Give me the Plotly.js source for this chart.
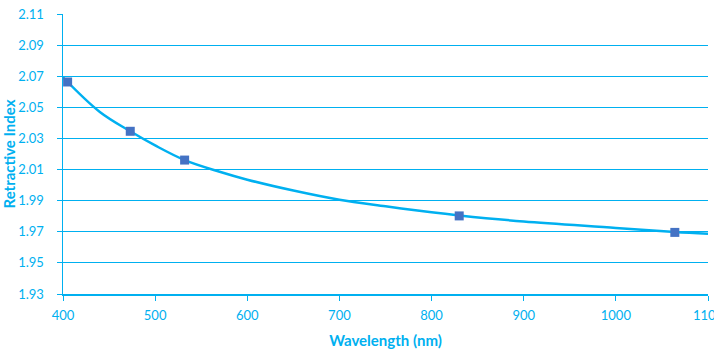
<!DOCTYPE html>
<html>
<head>
<meta charset="utf-8">
<script src="https://cdn.plot.ly/plotly-3.0.1.min.js"></script>
<style>html,body{margin:0;padding:0;background:#fff;}#chart{width:714px;height:350px;}</style>
</head>
<body>
<div id="chart"></div>
<script>
// Measured points
var wavelengths = [405, 473, 532, 830, 1064];
var refractiveIndex = [2.0663, 2.0346, 2.0161, 1.9802, 1.9696];

// Fitted curve
var curveWavelengths = [400, 440, 473, 500, 532, 570, 600, 650, 700, 750, 800, 830, 900, 1000, 1064, 1100];
var curveIndex = [2.0693, 2.0470, 2.0346, 2.0255, 2.0161, 2.0086, 2.0035, 1.9965, 1.9906, 1.9864, 1.9825, 1.9805, 1.9766, 1.9725, 1.9698, 1.9687];

var yTicks = [1.93, 1.95, 1.97, 1.99, 2.01, 2.03, 2.05, 2.07, 2.09, 2.11];
var xTicks = [400, 500, 600, 700, 800, 900, 1000, 1100];

var cyan = '#00B0F0';
var fontFam = 'Lato, "Open Sans", sans-serif';

var traces = [
  {
    x: curveWavelengths, y: curveIndex, type: 'scatter', mode: 'lines',
    line: {color: cyan, width: 2.5, shape: 'spline', smoothing: 1},
    hoverinfo: 'skip', showlegend: false, cliponaxis: true
  },
  {
    x: wavelengths, y: refractiveIndex, type: 'scatter', mode: 'markers',
    marker: {symbol: 'square', size: 9, color: '#4472C4'},
    showlegend: false, cliponaxis: false
  }
];

var layout = {
  width: 714, height: 350,
  margin: {l: 63, r: 6, t: 14, b: 56},
  paper_bgcolor: '#fff', plot_bgcolor: '#fff',
  font: {family: fontFam, color: cyan, size: 13},
  showlegend: false,
  xaxis: {
    range: [400, 1100], tickvals: xTicks, ticktext: xTicks.map(String),
    showgrid: false, zeroline: false,
    showline: true, linecolor: cyan, linewidth: 1.5,
    ticks: 'outside', ticklen: 5, tickcolor: cyan, tickwidth: 1,
    tickfont: {family: fontFam, color: cyan, size: 13},
    ticklabelstandoff: 4, ticklabeloverflow: 'allow',
    title: {text: '<b>Wavelength (nm)</b>', font: {family: fontFam, color: cyan, size: 15}, standoff: 13}
  },
  yaxis: {
    range: [1.93, 2.11], tickvals: yTicks, ticktext: yTicks.map(function(v){return v.toFixed(2);}),
    showgrid: true, gridcolor: cyan, gridwidth: 1,
    zeroline: false,
    showline: true, linecolor: cyan, linewidth: 1.5,
    ticks: 'outside', ticklen: 5, tickcolor: cyan, tickwidth: 1,
    tickfont: {family: fontFam, color: cyan, size: 13},
    ticklabelstandoff: 10,
    title: {text: '<b>Retractive Index</b>', font: {family: fontFam, color: cyan, size: 15}, standoff: 0}
  }
};

Plotly.newPlot('chart', traces, layout, {displayModeBar: false, staticPlot: true});
</script>
</body>
</html>
